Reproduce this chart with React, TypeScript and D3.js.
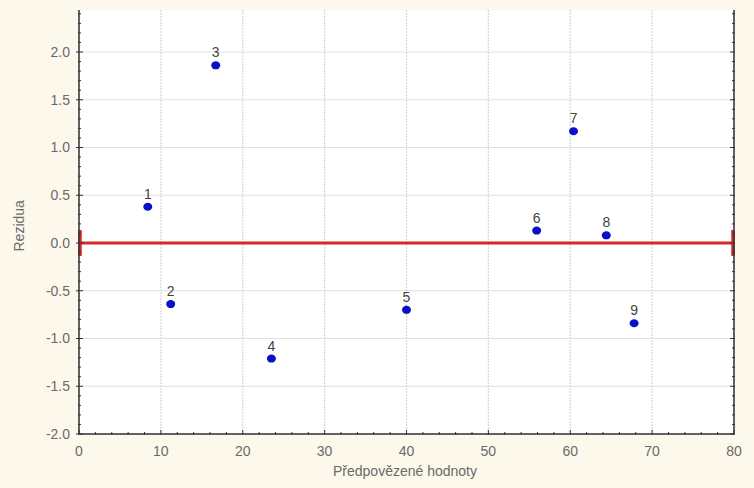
import React from "react";
import * as d3 from "d3";

// predicted values (x) and residuals (y)
const labels = ["1", "2", "3", "4", "5", "6", "7", "8", "9"];
const predicted = [8.4, 11.2, 16.7, 23.5, 40.0, 55.9, 60.4, 64.4, 67.8];
const residuals = [0.38, -0.64, 1.86, -1.21, -0.70, 0.13, 1.17, 0.08, -0.84];
const xTicks = [0, 10, 20, 30, 40, 50, 60, 70, 80];
const yTicks = [-2.0, -1.5, -1.0, -0.5, 0.0, 0.5, 1.0, 1.5, 2.0];

const width = 754;
const height = 488;
const left = 79, right = 734, bottom = 434, plotTop = 10;

// plain hyphen instead of d3's unicode minus, like the original
const format = (v: number) => d3.format(".1f")(v).replace("\u2212", "-");

export default function App() {
  const x = d3.scaleLinear().domain([0, 80]).range([left, right]);
  const y = d3.scaleLinear().domain([-2, 2.5]).range([bottom, bottom - 4.5 * 95.5]);

  const xMinor = d3.range(0, 80.01, 2);
  const yMinor = d3.range(-2, 2.45, 0.1);
  const font = "'Liberation Sans', Arial, sans-serif";

  return (
    <svg width={width} height={height} style={{ position: "absolute", left: 0, top: 0 }}>
      <rect width={width} height={height} fill="#fcf8ec" />
      <rect x={left} y={plotTop} width={right - left} height={bottom - plotTop} fill="#ffffff" />

      {/* grid */}
      {yTicks.map(t => (
        <line key={"gy" + t} x1={left} x2={right} y1={y(t)} y2={y(t)} stroke="#e0e0e0" strokeWidth={1.2} />
      ))}
      {xTicks.map(t => (
        <line key={"gx" + t} x1={x(t)} x2={x(t)} y1={plotTop} y2={bottom} stroke="#d8d8d8" strokeWidth={1.2} strokeDasharray="2,1" />
      ))}

      {/* zero line with caps */}
      <line x1={x(0)} x2={x(80)} y1={y(0)} y2={y(0)} stroke="#d42a2a" strokeWidth={3} />
      <line x1={x(0) + 1} x2={x(0) + 1} y1={y(0) - 13} y2={y(0) + 13} stroke="#d42a2a" strokeWidth={3.5} />
      <line x1={x(80) - 1} x2={x(80) - 1} y1={y(0) - 13} y2={y(0) + 13} stroke="#d42a2a" strokeWidth={3.5} />

      {/* axes */}
      <g stroke="#333" strokeWidth={1}>
        <line x1={left} x2={left} y1={plotTop} y2={bottom} strokeWidth={1.5} />
        <line x1={right} x2={right} y1={plotTop} y2={bottom} strokeWidth={1.5} />
        <line x1={left} x2={right} y1={bottom} y2={bottom} strokeWidth={1.5} />
        {yMinor.map((t, i) => {
          const major = i % 5 === 0;
          return (
            <g key={"ym" + i}>
              <line x1={left - (major ? 3 : 1)} x2={left + (major ? 4 : 2)} y1={y(t)} y2={y(t)} />
              <line x1={right - (major ? 4 : 2)} x2={right + 1} y1={y(t)} y2={y(t)} />
            </g>
          );
        })}
        {xMinor.map((t, i) => {
          const major = i % 5 === 0;
          return <line key={"xm" + i} x1={x(t)} x2={x(t)} y1={bottom - (major ? 4 : 2)} y2={bottom + 1} />;
        })}
      </g>

      {/* tick labels */}
      <g fill="#6a6a6a" fontFamily={font} fontSize={14}>
        {yTicks.map(t => (
          <text key={"ly" + t} x={left - 9} y={y(t)} dy="0.35em" textAnchor="end">{format(t)}</text>
        ))}
        {xTicks.map(t => (
          <text key={"lx" + t} x={x(t)} y={bottom + 22} textAnchor="middle">{t}</text>
        ))}
      </g>

      {/* axis titles */}
      <text x={405} y={476} textAnchor="middle" fill="#6a6a6a" fontFamily={font} fontSize={14}>Předpovězené hodnoty</text>
      <text transform={`translate(24,${y(0.18)}) rotate(-90)`} textAnchor="middle" fill="#6a6a6a" fontFamily={font} fontSize={14}>Rezidua</text>

      {/* points */}
      {predicted.map((p, i) => (
        <g key={"pt" + i}>
          <ellipse cx={x(p)} cy={y(residuals[i])} rx={4.5} ry={4} fill="#0a10c8" />
          <text x={x(p)} y={y(residuals[i]) - 8} textAnchor="middle" fill="#444" fontFamily={font} fontSize={14}>{labels[i]}</text>
        </g>
      ))}
    </svg>
  );
}
